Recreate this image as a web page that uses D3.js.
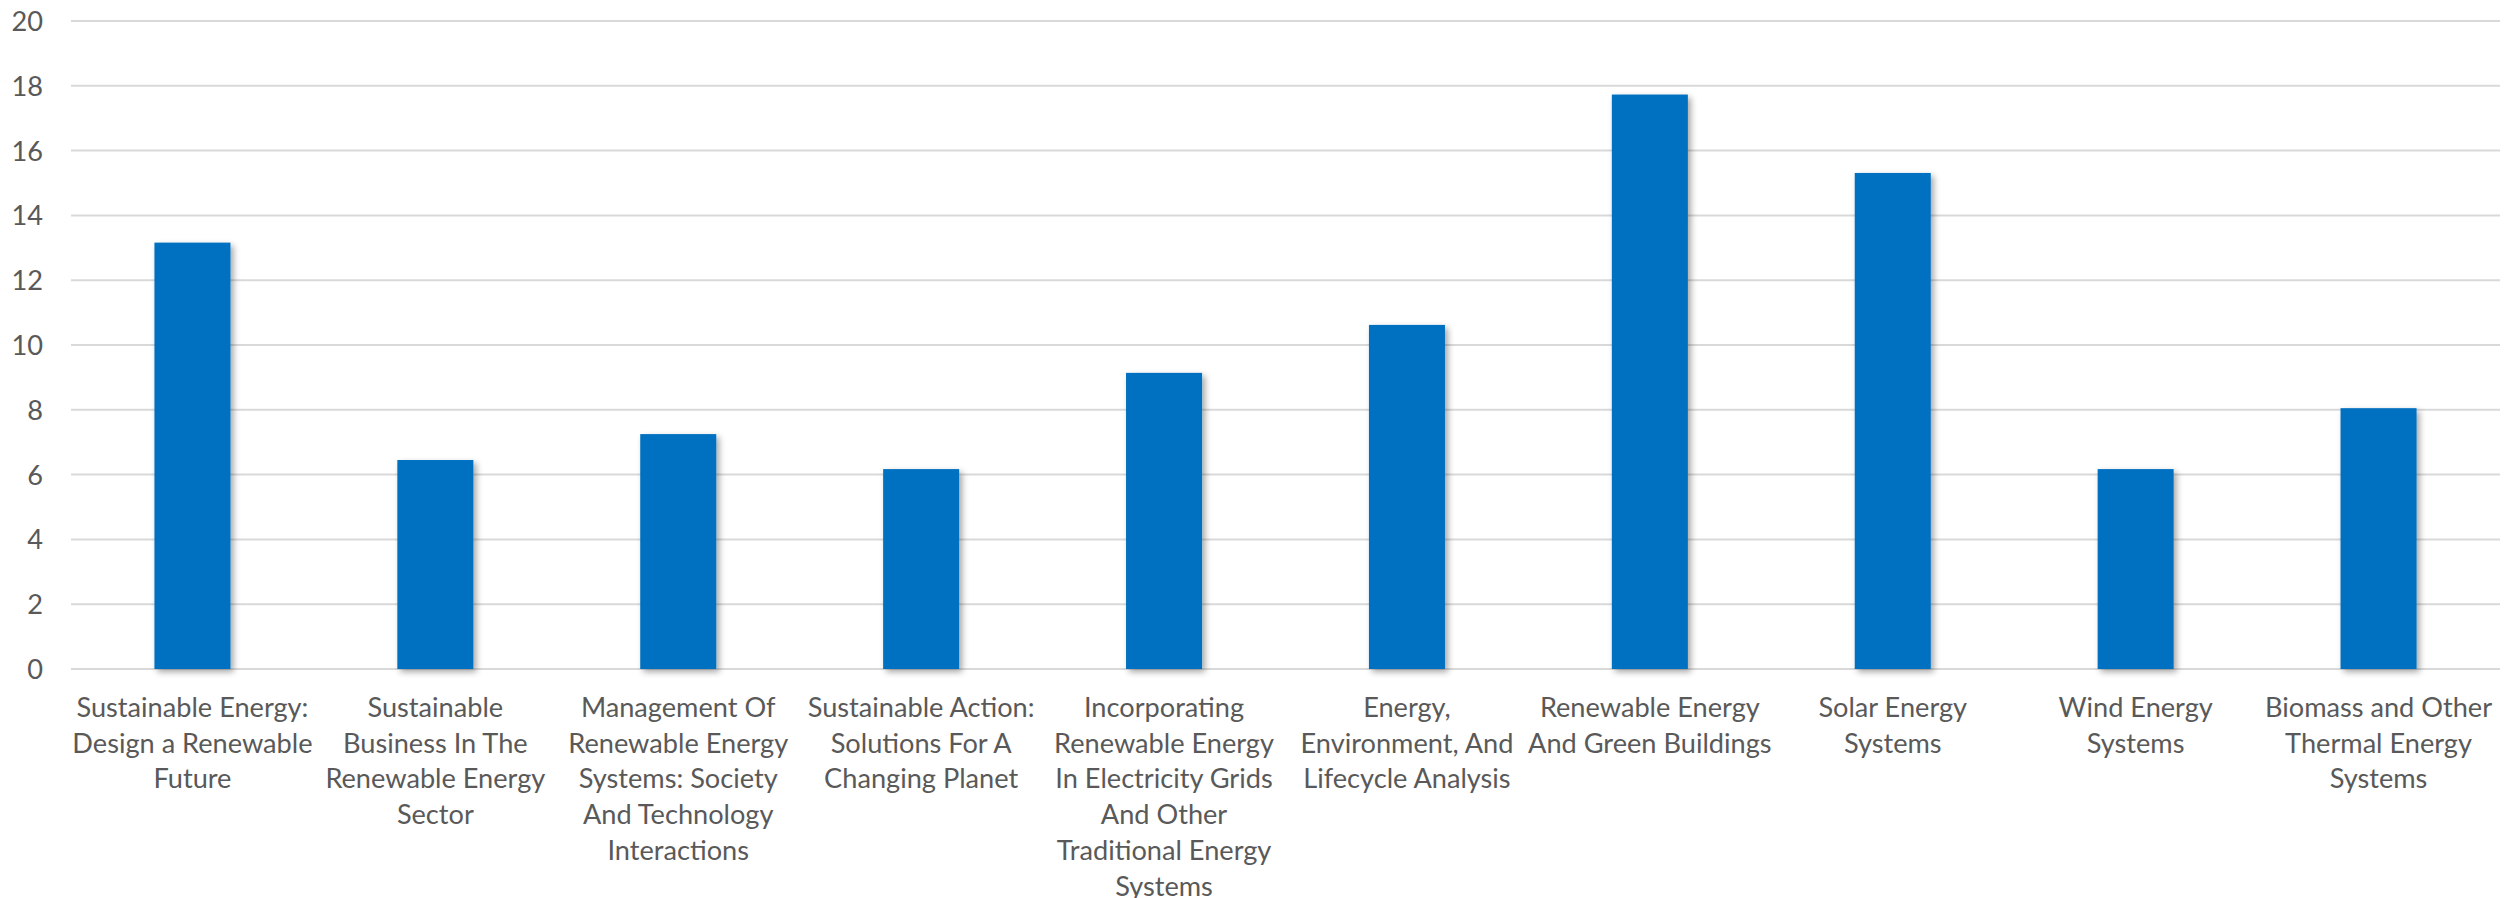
<!DOCTYPE html>
<html>
<head>
<meta charset="utf-8">
<script src="https://cdn.jsdelivr.net/npm/d3@7"></script>
<style>
  html, body { margin: 0; padding: 0; background: #ffffff; }
  svg { display: block; }
</style>
</head>
<body>
<svg id="chart" width="2504" height="898"></svg>
<script>
// ---- data ----
const categories = [
  "Sustainable Energy: Design a Renewable Future",
  "Sustainable Business In The Renewable Energy Sector",
  "Management Of Renewable Energy Systems: Society And Technology Interactions",
  "Sustainable Action: Solutions For A Changing Planet",
  "Incorporating Renewable Energy In Electricity Grids And Other Traditional Energy Systems",
  "Energy, Environment, And Lifecycle Analysis",
  "Renewable Energy And Green Buildings",
  "Solar Energy Systems",
  "Wind Energy Systems",
  "Biomass and Other Thermal Energy Systems"
];
const categoryLines = [
  ["Sustainable Energy:", "Design a Renewable", "Future"],
  ["Sustainable", "Business In The", "Renewable Energy", "Sector"],
  ["Management Of", "Renewable Energy", "Systems: Society", "And Technology", "Interactions"],
  ["Sustainable Action:", "Solutions For A", "Changing Planet"],
  ["Incorporating", "Renewable Energy", "In Electricity Grids", "And Other", "Traditional Energy", "Systems"],
  ["Energy,", "Environment, And", "Lifecycle Analysis"],
  ["Renewable Energy", "And Green Buildings"],
  ["Solar Energy", "Systems"],
  ["Wind Energy", "Systems"],
  ["Biomass and Other", "Thermal Energy", "Systems"]
];
const values = [13.16, 6.45, 7.25, 6.17, 9.14, 10.62, 17.73, 15.31, 6.17, 8.05];
const yTicks = [0, 2, 4, 6, 8, 10, 12, 14, 16, 18, 20];

// ---- layout ----
const plotLeft = 71, plotRight = 2500, plotTop = 21, plotBottom = 669;
const fontFamily = "Lato, 'Open Sans', sans-serif";
const textColor = "#595959";

const svg = d3.select("#chart");

// fit font size so that the first label line matches the reference width
const probe = svg.append("text").attr("font-family", fontFamily).attr("font-size", 100).text("Sustainable Energy:");
const w100 = probe.node().getComputedTextLength();
probe.remove();
const fontSize = Math.min(30, Math.max(20, 100 * 232 / w100));

const x = d3.scaleBand().domain(categories).range([plotLeft, plotRight]).paddingInner(0.687).paddingOuter(0.3435);
const y = d3.scaleLinear().domain([0, 20]).range([plotBottom, plotTop]);

const defs = svg.append("defs");
const f = defs.append("filter").attr("id", "shadow").attr("x", "-30%").attr("y", "-10%").attr("width", "160%").attr("height", "120%");
f.append("feDropShadow").attr("dx", 3).attr("dy", 3).attr("stdDeviation", 3)
  .attr("flood-color", "#000").attr("flood-opacity", 0.35);

// gridlines
svg.append("g").selectAll("line").data(yTicks).join("line")
  .attr("x1", plotLeft).attr("x2", plotRight)
  .attr("y1", d => y(d)).attr("y2", d => y(d))
  .attr("stroke", "#d9d9d9").attr("stroke-width", 2);

// y axis labels
const yAxis = d3.axisLeft(y).tickValues(yTicks).tickSize(0).tickPadding(0).tickFormat(d3.format("d"));
const gy = svg.append("g").attr("transform", `translate(${43},0)`).call(yAxis);
gy.select(".domain").remove();
gy.selectAll("text").attr("font-family", fontFamily).attr("font-size", fontSize)
  .attr("fill", textColor).attr("text-anchor", "end").attr("dy", "0.35em");

// bars
svg.append("g").selectAll("rect").data(values).join("rect")
  .attr("x", (d, i) => x(categories[i]))
  .attr("width", x.bandwidth())
  .attr("y", d => y(d))
  .attr("height", d => y(0) - y(d))
  .attr("fill", "#0070C0")
  .attr("filter", "url(#shadow)");

// x labels
const lineH = 35.7;
const gx = svg.append("g");
categories.forEach((c, i) => {
  const cx = x(c) + x.bandwidth() / 2;
  const t = gx.append("text")
    .attr("x", cx)
    .attr("y", 717)
    .attr("text-anchor", "middle")
    .attr("font-family", fontFamily)
    .attr("font-size", fontSize)
    .attr("fill", textColor);
  categoryLines[i].forEach((ln, j) => {
    t.append("tspan").attr("x", cx).attr("dy", j === 0 ? 0 : lineH).text(ln);
  });
});
</script>
</body>
</html>
